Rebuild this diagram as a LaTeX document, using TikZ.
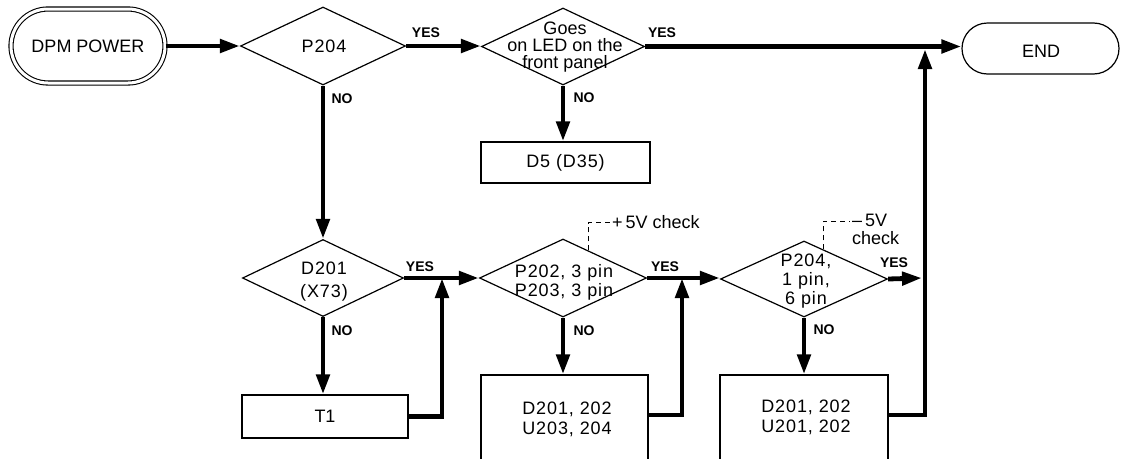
\documentclass[tikz,border=0pt]{standalone}
\usepackage{fontspec}
\setmainfont{Liberation Sans}
\usetikzlibrary{shapes.geometric,shapes.misc,arrows.meta,calc}
\newcommand{\wide}{\addfontfeature{LetterSpace=5}}
\begin{document}
\begin{tikzpicture}[x=1pt,y=-1pt,
  body/.style={font=\fontsize{18}{19}\selectfont, align=center, inner sep=0pt},
  lab/.style={font=\fontsize{14}{15}\selectfont\bfseries, inner sep=0pt},
  notetext/.style={font=\fontsize{18}{18}\selectfont, align=left, inner sep=0pt},
  dec/.style={diamond, draw, line width=1.2pt, inner sep=0pt},
  box/.style={rectangle, draw, line width=1.2pt, inner sep=0pt},
  flow/.style={line width=4.8pt, -{Triangle[length=20pt,width=13pt]}},
  dashline/.style={line width=0.8pt, dash pattern=on 5pt off 4pt}]
\useasboundingbox (0,0) rectangle (1121,458);
\clip (0,0) rectangle (1121,458);

% terminals
\node[rounded rectangle, draw, double, double distance=3pt, line width=1.1pt,
      minimum width=154pt, minimum height=74pt, body] (dpm) at (88,46) {DPM POWER};
\node[rounded rectangle, draw, line width=1.2pt, minimum width=157pt,
      minimum height=51pt, body] (end) at (1040.5,48.5) {};
\node[body] (tend) at (1041,51) {END};

% decisions
\node[dec, minimum width=165pt, minimum height=78pt] (p204) at (323,46) {};
\node[body, font=\fontsize{18}{19}\selectfont\wide] (tp204) at (324,46) {P204};
\node[dec, minimum width=163pt, minimum height=77pt] (led) at (563,46.5) {};
\node[body, font=\fontsize{18}{17}\selectfont] (tled) at (565,47) {Goes\\on LED on the\\front panel};
\node[dec, minimum width=161pt, minimum height=77pt] (d201) at (323,278) {};
\node[body, font=\fontsize{18}{23}\selectfont\wide] (td201) at (324,282) {D201\\(X73)};
\node[dec, minimum width=167pt, minimum height=78pt] (p202) at (563,278) {};
\node[body, font=\fontsize{18}{19}\selectfont\wide] (tp202) at (564,282) {P202, 3 pin\\P203, 3 pin};
\node[dec, minimum width=167pt, minimum height=76pt] (p204b) at (804,279) {};
\node[body, font=\fontsize{18}{19}\selectfont\wide] (tp204b) at (806,281) {P204,\\1 pin,\\6 pin};

% process boxes
\node[box, minimum width=169pt, minimum height=41pt, body, font=\fontsize{18}{19}\selectfont\wide] (d5) at (565.5,162.5) {D5 (D35)};
\node[box, minimum width=166pt, minimum height=43pt, body] (t1) at (325,416.5) {T1};
\node[box, minimum width=167pt, minimum height=110pt] (b2) at (564.5,430) {};
\node[body, font=\fontsize{18}{20}\selectfont\wide] (tb2) at (567,419) {D201, 202\\U203, 204};
\node[box, minimum width=168pt, minimum height=110pt] (b3) at (804,430) {};
\node[body, font=\fontsize{18}{20}\selectfont\wide] (tb3) at (806,417) {D201, 202\\U201, 202};

% junction coordinates
\coordinate (j1) at (442,278);
\coordinate (j2) at (682,278);
\coordinate (r2) at (682,415);
\coordinate (j4) at (922,278);
\coordinate (r3) at (925,415);
\coordinate (j3) at (925,49);

% connectors
\draw[flow] (dpm.east) -- (p204.west);
\draw[flow] (p204.east) -- (p204.east -| led.west);
\draw[flow] (led.east) -- (led.east -| end.west);
\draw[flow] (p204.south) -- (d201.north);
\draw[flow] (led.south) -- (led.south |- d5.north);
\draw[flow] (d201.east) -- (d201.east -| p202.west);
\draw[flow] (d201.south) -- (d201.south |- t1.north);
\draw[flow] (t1.east) -| (j1);
\draw[flow] (p202.east) -- (p202.east -| p204b.west);
\draw[flow] (p202.south) -- (p202.south |- b2.north);
\draw[flow] (b2.east |- r2) -| (j2);
\draw[flow] (p204b.east) -- (j4);
\draw[flow] (p204b.south) -- (p204b.south |- b3.north);
\draw[flow] (b3.east |- r3) -| (j3);

% YES / NO labels
\node[lab] (yes1) at (426,33) {YES};
\node[lab] (yes2) at (662,33) {YES};
\node[lab] (no1) at (342,99) {NO};
\node[lab] (no2) at (584,98) {NO};
\node[lab] (yes3) at (420,267) {YES};
\node[lab] (no3) at (342,331) {NO};
\node[lab] (yes4) at (665,267) {YES};
\node[lab] (no4) at (584,331) {NO};
\node[lab] (yes5) at (894,263) {YES};
\node[lab] (no5) at (824,330) {NO};

% voltage check notes
\coordinate (c1) at ($(p202.north)!0.3!(p202.east)$);
\node[notetext, anchor=west] (n1) at (612,222.5) {+\,5V check};
\draw[dashline] (c1) |- (n1.west);
\coordinate (c2) at ($(p204b.north)!0.23!(p204b.east)$);
\coordinate (k2) at (850,221);
\node[notetext, anchor=north west] (n2) at (852,214) {–\,5V\\check};
\draw[dashline] (c2) |- (k2);
\end{tikzpicture}
\end{document}
